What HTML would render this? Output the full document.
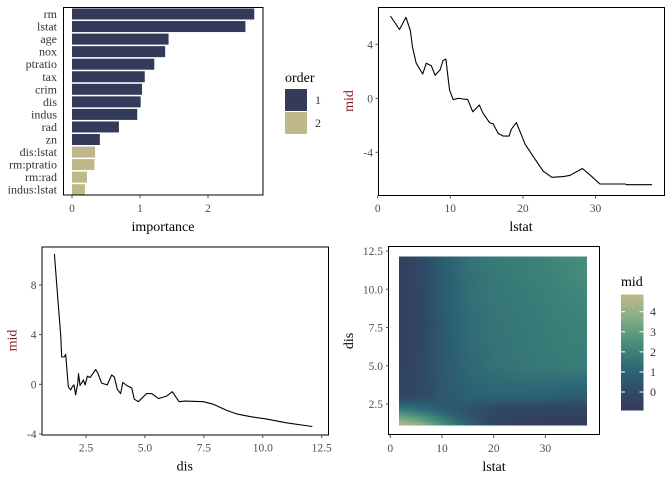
<!DOCTYPE html>
<html><head><meta charset="utf-8"><style>
html,body{margin:0;padding:0;background:#fff;}
svg{display:block;font-family:"Liberation Serif",serif;}
.tk{fill:#4d4d4d;font-size:11.5px;}
.tkb{fill:#333;font-size:12px;}
.ttl{fill:#000;font-size:14px;}
.ymid{fill:#8b1a1a;font-size:14px;}
</style></head><body>
<svg id="s" width="672" height="480" viewBox="0 0 672 480"></svg>
<script>
// ---- Panel 1 data ----
const impNames = ["rm","lstat","age","nox","ptratio","tax","crim","dis","indus","rad","zn","dis:lstat","rm:ptratio","rm:rad","indus:lstat"];
const impValues = [2.68,2.55,1.42,1.37,1.21,1.07,1.03,1.01,0.96,0.69,0.41,0.34,0.33,0.22,0.19];
const impOrder = [1,1,1,1,1,1,1,1,1,1,1,2,2,2,2];
const impTicks = [0,1,2];
// ---- Panel 2 data ----
const lstatX = [1.75,3.0,3.9,4.5,4.8,5.3,6.2,6.7,7.4,7.9,8.6,9.0,9.4,9.7,9.9,10.4,11.1,11.8,12.4,13.1,14.0,14.5,15.4,15.9,16.6,17.3,18.1,18.4,19.1,20.3,21.4,22.8,24.0,25.6,26.5,28.2,29.3,30.6,34.1,34.3,37.8];
const lstatMid = [6.1,5.1,6.0,5.0,3.8,2.6,1.8,2.6,2.4,1.7,2.1,2.8,2.9,1.5,0.6,-0.1,0,-0.05,-0.1,-1.0,-0.5,-1.1,-1.8,-1.9,-2.6,-2.8,-2.8,-2.3,-1.8,-3.4,-4.3,-5.4,-5.85,-5.8,-5.7,-5.2,-5.7,-6.35,-6.35,-6.4,-6.4];
const p2xTicks = [0,10,20,30];
const p2yTicks = [-4,0,4];
// ---- Panel 3 data ----
const disX = [1.16,1.23,1.33,1.43,1.47,1.57,1.64,1.68,1.75,1.85,1.92,1.99,2.06,2.15,2.18,2.25,2.39,2.46,2.56,2.67,2.81,2.91,3.0,3.16,3.4,3.59,3.7,3.83,3.97,4.06,4.23,4.44,4.55,4.72,5.07,5.29,5.57,5.92,6.16,6.45,6.7,7.48,7.9,8.47,8.92,9.46,10.17,11.0,12.1];
const disMid = [10.5,8.7,6.3,3.85,2.2,2.2,2.4,1.4,-0.2,-0.45,-0.2,-0.05,-0.85,0.1,0.85,-0.1,0.35,-0.05,0.65,0.55,0.9,1.2,0.9,0.1,-0.05,0.75,0.6,-0.4,-0.75,0.15,-0.1,-0.3,-1.2,-1.4,-0.75,-0.75,-1.15,-0.95,-0.6,-1.4,-1.35,-1.4,-1.6,-2.1,-2.4,-2.6,-2.8,-3.1,-3.4];
const p3xTicks = [2.5,5.0,7.5,10.0,12.5];
const p3yTicks = [-4,0,4,8];
// ---- Panel 4 data ----
const hmLstat = [1.73,6,10,15,20,30,37.97];
const hmDis = [1.13,1.6,2.2,3,5,8,12.13];
const hmVals = [
 [4.8,4.0,2.6,1.0,-0.3,-0.7,-0.7],
 [3.6,2.9,1.8,0.6,-0.3,-0.6,-0.6],
 [1.8,1.3,0.8,0.3,-0.1,-0.3,-0.3],
 [-0.2,0.0,0.5,0.9,1.0,0.9,0.7],
 [-0.5,-0.1,0.6,1.2,1.5,1.8,1.9],
 [-0.6,-0.2,0.6,1.3,1.6,1.9,2.1],
 [-0.6,-0.1,0.8,1.5,1.8,2.1,2.5]];
const p4xTicks = [0,10,20,30];
const p4yTicks = [2.5,5.0,7.5,10.0,12.5];
const cbTicks = [0,1,2,3,4];

const NS="http://www.w3.org/2000/svg";
const svg=document.getElementById('s');
function mk(tag,attrs,parent){const e=document.createElementNS(NS,tag);for(const k in attrs)e.setAttribute(k,attrs[k]);(parent||svg).appendChild(e);return e;}
function txt(x,y,s,cls,anchor,parent){const t=mk('text',{x:x,y:y,class:cls,'text-anchor':anchor||'middle'},parent);t.textContent=s;return t;}
function lin(d0,d1,r0,r1){return v=>r0+(v-d0)*(r1-r0)/(d1-d0);}

// ===== Panel 1 =====
{
 const g=mk('g',{});
 
 
 const x=lin(0,1,72,140);
 const top=8.5,step=12.55,bh=11;
 impValues.forEach((v,i)=>{
  const r=mk('rect',{x:x(0),y:top+i*step,width:x(v)-x(0),height:bh,fill:impOrder[i]===1?'#343a5a':'#bfb88a'},g);
  
  
  const t=txt(57,top+i*step+9.5,impNames[i],'tkb','end',g);
  
  
 });
 mk('rect',{x:63.5,y:7.5,width:199.5,height:187.5,fill:'none',stroke:'#000','stroke-width':1},g);
 impTicks.forEach(v=>{
  mk('line',{x1:x(v),x2:x(v),y1:195,y2:198,stroke:'#4d4d4d'},g);
  const t=txt(x(v),212,String(v),'tk','middle',g);
  
  
 });
 const xt=txt(163,231,'importance','ttl','middle',g);
 
 
 const lt=txt(285,82,'order','ttl','start',g);
 
 
 [[1,'#343a5a',89],[2,'#bfb88a',112]].forEach(([lab,c,y])=>{
  const r=mk('rect',{x:285,y:y,width:22,height:22,fill:c},g);
  
  
  const t=txt(315,y+15,String(lab),'tkb','start',g);
  t.setAttribute('fill','#000');
  
  
 });
}

// generic line panel
function linePanel(name,box,xs,ys,xd,yd,xTicks,yTicks,xFmt,xTitle){
 const g=mk('g',{});
 
 
 const x=lin(xd[0],xd[1],xd[2],xd[3]), y=lin(yd[0],yd[1],yd[2],yd[3]);
 const pts=xs.map((v,i)=>x(v).toFixed(1)+','+y(ys[i]).toFixed(1)).join(' ');
 const pl=mk('polyline',{points:pts,fill:'none',stroke:'#000','stroke-width':1.1,'stroke-linejoin':'round'},g);
 
 
 mk('rect',{x:box[0]+0.5,y:box[1]+0.5,width:box[2]-box[0],height:box[3]-box[1],fill:'none',stroke:'#000'},g);
 xTicks.forEach(v=>{
  mk('line',{x1:x(v),x2:x(v),y1:box[3]+0.5,y2:box[3]+3.5,stroke:'#4d4d4d'},g);
  const t=txt(x(v),box[3]+17,xFmt(v),'tk','middle',g);
  
  
 });
 yTicks.forEach(v=>{
  mk('line',{x1:box[0]-2.5,x2:box[0]+0.5,y1:y(v),y2:y(v),stroke:'#4d4d4d'},g);
  const t=txt(box[0]-5,y(v)+4,String(v),'tk','end',g);
  
  
 });
 const xt=txt((box[0]+box[2])/2,box[3]+36,xTitle,'ttl','middle',g);
 
 
 const yt=txt(0,0,'mid','ymid','middle',g);
 yt.setAttribute('transform','translate('+(box[0]-25)+','+((box[1]+box[3])/2)+') rotate(-90)');
 
 
}
linePanel('lstat-pd-panel',[378,7,664,195],lstatX,lstatMid,[0,10,377.7,450.3],[0,4,98.3,44.3],p2xTicks,p2yTicks,v=>String(v),'lstat');
linePanel('dis-pd-panel',[41.5,246.5,328,434.5],disX,disMid,[2.5,12.5,86,321.7],[0,8,384.3,285],p3xTicks,p3yTicks,v=>v.toFixed(1),'dis');

// ===== Panel 4 heatmap =====
{
 const g=mk('g',{});
 
 
 const x=lin(0,10,390.3,442), y=lin(2.5,12.5,404,251);
 const stops=[[-0.9,[52,58,90]],[0,[47,74,102]],[1,[44,98,116]],[2,[58,128,121]],[3,[93,156,128]],[4,[147,176,135]],[4.85,[191,184,138]]];
 function col(v){
  if(v<=stops[0][0])return 'rgb('+stops[0][1]+')';
  for(let i=1;i<stops.length;i++){if(v<=stops[i][0]){const a=stops[i-1],b=stops[i],t=(v-a[0])/(b[0]-a[0]);return 'rgb('+a[1].map((c,k)=>Math.round(c+(b[1][k]-c)*t)).join(',')+')';}}
  return 'rgb('+stops[stops.length-1][1]+')';
 }
 function seg(arr,v){for(let i=0;i<arr.length-1;i++){if(v<=arr[i+1])return [i,(v-arr[i])/(arr[i+1]-arr[i])];}return [arr.length-2,1];}
 function val(l,d){const [i,tx]=seg(hmLstat,l),[j,ty]=seg(hmDis,d);
  const a=hmVals[j][i],b=hmVals[j][i+1],c=hmVals[j+1][i],e=hmVals[j+1][i+1];
  return (a*(1-tx)+b*tx)*(1-ty)+(c*(1-tx)+e*tx)*ty;}
 const L0=hmLstat[0],L1=hmLstat[hmLstat.length-1],D0=hmDis[0],D1=hmDis[hmDis.length-1];
 const nx=80,ny=70,dl=(L1-L0)/nx,dd=(D1-D0)/ny;
 const cells=mk('g',{'shape-rendering':'crispEdges'},g);
 
 
 for(let i=0;i<nx;i++)for(let j=0;j<ny;j++){
  const l=L0+i*dl,d=D0+j*dd;
  const x0=x(l),x1=x(l+dl),y0=y(d+dd),y1=y(d);
  mk('rect',{x:x0.toFixed(2),y:y0.toFixed(2),width:(x1-x0+0.6).toFixed(2),height:(y1-y0+0.6).toFixed(2),fill:col(val(l+dl/2,d+dd/2))},cells);
 }
 mk('rect',{x:388.5,y:246.5,width:211,height:188,fill:'none',stroke:'#000'},g);
 p4xTicks.forEach(v=>{
  mk('line',{x1:x(v),x2:x(v),y1:435,y2:438,stroke:'#4d4d4d'},g);
  const t=txt(x(v),452,String(v),'tk','middle',g);
  
  
 });
 p4yTicks.forEach(v=>{
  mk('line',{x1:386,x2:389,y1:y(v),y2:y(v),stroke:'#4d4d4d'},g);
  const t=txt(383,y(v)+4,v.toFixed(1),'tk','end',g);
  
  
 });
 const xt=txt(494,471,'lstat','ttl','middle',g);
 
 
 const yt=txt(0,0,'dis','ttl','middle',g);
 yt.setAttribute('transform','translate(353,341) rotate(-90)');
 
 
 // colorbar
 const cb=lin(0,4,392,311.7);
 const cbg=mk('g',{'shape-rendering':'crispEdges'},g);
 
 
 const n=46,vmin=-0.9,vmax=4.85;
 for(let k=0;k<n;k++){const v0=vmin+k*(vmax-vmin)/n,v1=vmin+(k+1)*(vmax-vmin)/n;
  mk('rect',{x:621,y:cb(v1).toFixed(2),width:22.5,height:(cb(v0)-cb(v1)+0.6).toFixed(2),fill:col((v0+v1)/2)},cbg);}
 cbTicks.forEach(v=>{
  mk('line',{x1:621,x2:625,y1:cb(v),y2:cb(v),stroke:'#fff'},g);
  mk('line',{x1:639.5,x2:643.5,y1:cb(v),y2:cb(v),stroke:'#fff'},g);
  const t=txt(650,cb(v)+4,String(v),'tkb','start',g);
  t.setAttribute('fill','#000');
  
  
 });
 const ct=txt(621,286,'mid','ttl','start',g);
 
 
}
</script>
</body></html>
